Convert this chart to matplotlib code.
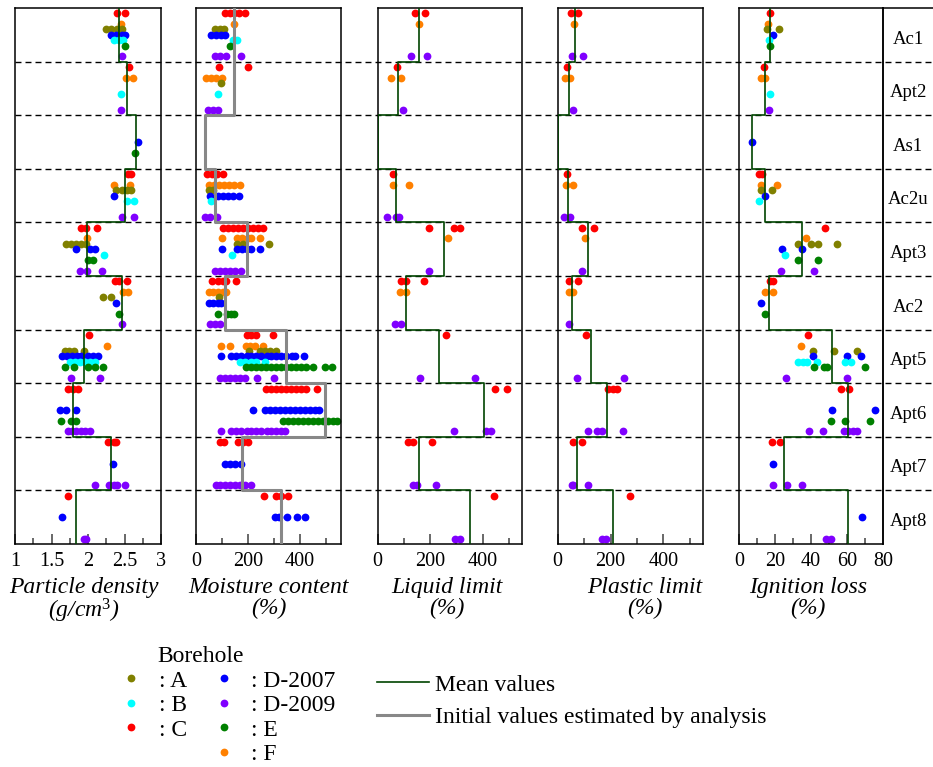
import matplotlib
matplotlib.use('Agg')
import matplotlib.pyplot as plt
from matplotlib.lines import Line2D

plt.rcParams['font.family'] = ['Liberation Serif', 'DejaVu Serif']
plt.rcParams['mathtext.fontset'] = 'custom'
plt.rcParams['mathtext.rm'] = 'Liberation Serif'
plt.rcParams['mathtext.it'] = 'Liberation Serif:italic'

# Layers from top to bottom, and boreholes
LAYERS = ['Ac1', 'Apt2', 'As1', 'Ac2u', 'Apt3', 'Ac2', 'Apt5', 'Apt6', 'Apt7', 'Apt8']
HOLES = ['A', 'B', 'C', 'D-2007', 'D-2009', 'E', 'F']
COLORS = {'A': '#808000', 'B': '#00ffff', 'C': '#ff0000', 'D-2007': '#0000ff',
          'D-2009': '#8000ff', 'E': '#008000', 'F': '#ff8000'}
# relative depth of each borehole's samples inside a layer
ROW = {'C': 0.1, 'F': 0.3, 'A': 0.4, 'D-2007': 0.5, 'B': 0.6, 'E': 0.7, 'D-2009': 0.9}

# Particle density (g/cm3)
density = {
    'Ac1': {'C': [2.40, 2.51], 'F': [2.45], 'A': [2.25, 2.32, 2.40, 2.47],
            'D-2007': [2.32, 2.39, 2.46, 2.51], 'B': [2.35, 2.42, 2.48], 'E': [2.51], 'D-2009': [2.47]},
    'Apt2': {'C': [2.56], 'F': [2.52, 2.61], 'B': [2.45], 'D-2009': [2.45]},
    'As1': {'D-2007': [2.68], 'E': [2.65]},
    'Ac2u': {'C': [2.55, 2.59], 'F': [2.35, 2.57], 'A': [2.39, 2.46, 2.53, 2.59],
             'D-2007': [2.36], 'B': [2.53, 2.63], 'D-2009': [2.47, 2.63]},
    'Apt3': {'C': [1.91, 1.97, 2.13], 'F': [1.99], 'A': [1.70, 1.77, 1.84, 1.91, 1.97],
             'D-2007': [1.84, 2.03, 2.10], 'B': [2.22], 'E': [2.00, 2.07], 'D-2009': [1.89, 1.98, 2.19]},
    'Ac2': {'C': [2.37, 2.42, 2.54], 'F': [2.48, 2.55], 'A': [2.20, 2.31], 'D-2007': [2.39],
            'E': [2.42], 'D-2009': [2.47]},
    'Apt5': {'C': [2.02], 'F': [2.26], 'A': [1.68, 1.74, 1.81, 1.95],
             'D-2007': [1.64, 1.71, 1.78, 1.85, 1.91, 2.00, 2.07, 2.14],
             'B': [1.75, 1.82, 1.89, 1.96, 2.03, 2.10], 'E': [1.69, 1.81, 2.00, 2.09, 2.21],
             'D-2009': [1.77, 2.16]},
    'Apt6': {'C': [1.73, 1.80, 1.86], 'D-2007': [1.61, 1.70, 1.83], 'E': [1.63, 1.77, 1.84],
             'D-2009': [1.72, 1.78, 1.84, 1.90, 1.96, 2.03]},
    'Apt7': {'C': [2.28, 2.35, 2.39], 'D-2007': [2.34], 'D-2009': [2.09, 2.29, 2.35, 2.40, 2.51]},
    'Apt8': {'C': [1.72], 'D-2007': [1.65], 'D-2009': [1.94, 1.97]},
}
density_mean = [2.43, 2.54, 2.66, 2.50, 1.99, 2.47, 1.94, 1.80, 2.32, 1.84]

# Moisture content (%)
moisture = {
    'Ac1': {'C': [110, 129, 147, 167, 187], 'F': [145], 'A': [72, 91, 108], 'D-2007': [59, 78, 97, 110],
            'B': [142, 158], 'E': [129], 'D-2009': [72, 91, 114, 174]},
    'Apt2': {'C': [88, 200], 'F': [40, 59, 78, 101], 'A': [95], 'B': [85], 'D-2009': [46, 65, 85]},
    'Ac2u': {'C': [42, 62, 81, 104], 'F': [50, 69, 88, 108, 127, 146, 168], 'A': [50, 65],
             'D-2007': [55, 85, 104, 123, 142, 165], 'B': [59], 'D-2009': [33, 53, 81]},
    'Apt3': {'C': [104, 123, 142, 162, 181, 200, 219, 238, 258], 'F': [100, 158, 178, 200, 213, 247],
             'A': [158, 181, 281], 'D-2007': [100, 158, 177, 194, 213, 247], 'B': [140],
             'D-2009': [72, 91, 110, 129, 149, 171]},
    'Ac2': {'C': [63, 85, 104, 117, 155], 'F': [50, 65, 85, 104, 117], 'A': [88], 'D-2007': [50, 65, 85, 97],
            'E': [85, 119, 136, 145], 'D-2009': [53, 72, 91]},
    'Apt5': {'C': [194, 213, 232, 296], 'F': [97, 129, 191, 209, 226, 258], 'A': [204, 245, 264, 283, 309],
             'D-2007': [97, 136, 155, 174, 194, 213, 232, 251, 271, 290, 309, 328, 347, 367, 379, 414],
             'B': [168, 187, 213, 232, 264],
             'E': [191, 210, 229, 249, 268, 287, 306, 326, 345, 364, 383, 403, 422, 450, 495, 521],
             'D-2009': [91, 110, 129, 149, 168, 187, 236, 300]},
    'Apt6': {'C': [268, 287, 306, 326, 345, 364, 383, 403, 422, 465],
             'D-2007': [219, 264, 283, 303, 322, 341, 360, 379, 399, 418, 437, 456, 473],
             'E': [335, 354, 373, 392, 412, 431, 450, 469, 488, 508, 527, 540],
             'D-2009': [97, 136, 155, 174, 194, 213, 232, 251, 271, 290, 309, 328, 341]},
    'Apt7': {'C': [91, 106, 162, 181, 200], 'D-2007': [110, 129, 149, 174],
             'D-2009': [76, 91, 110, 129, 149, 168, 187, 210]},
    'Apt8': {'C': [260, 309, 326, 354], 'D-2007': [305, 319, 350, 388, 418]},
}
moisture_init = [146, 146, 33, 72, 194, 113, 345, 495, 177, 328]

# Liquid limit (%)
liquid = {
    'Ac1': {'C': [143, 181], 'F': [159], 'D-2009': [126, 189]},
    'Apt2': {'C': [73], 'F': [51, 88], 'D-2009': [96]},
    'Ac2u': {'C': [60], 'F': [57, 121], 'D-2009': [37, 69, 80]},
    'Apt3': {'C': [194, 292, 315], 'F': [269], 'D-2009': [194]},
    'Ac2': {'C': [89, 108, 178], 'F': [85, 108], 'D-2009': [66, 88]},
    'Apt5': {'C': [261], 'D-2009': [162, 372]},
    'Apt6': {'C': [448, 493], 'D-2009': [292, 414, 432]},
    'Apt7': {'C': [115, 136, 206], 'D-2009': [136, 149, 222]},
    'Apt8': {'C': [442], 'D-2009': [296, 315]},
}
liquid_mean = [159, 79, 0, 69, 251, 107, 234, 405, 159, 350]

# Plastic limit (%)
plastic = {
    'Ac1': {'C': [49, 75], 'F': [63], 'D-2009': [56, 97]},
    'Apt2': {'C': [37], 'F': [28, 47], 'D-2009': [59]},
    'Ac2u': {'C': [37], 'F': [30, 57], 'D-2009': [24, 47]},
    'Apt3': {'C': [91, 138], 'F': [104], 'D-2009': [92]},
    'Ac2': {'C': [41, 75], 'F': [44, 59], 'D-2009': [41]},
    'Apt5': {'C': [106], 'D-2009': [72, 252]},
    'Apt6': {'C': [192, 209, 224], 'D-2009': [116, 148, 167, 247]},
    'Apt7': {'C': [57, 91], 'D-2009': [53, 59, 114]},
    'Apt8': {'C': [272], 'D-2009': [167, 182]},
}
plastic_mean = [67, 43, 0, 38, 116, 53, 125, 186, 72, 209]

# Ignition loss (%)
ignition = {
    'Ac1': {'C': [17.2], 'F': [16.3], 'A': [15.7, 22.2], 'D-2007': [18.7], 'B': [16.8], 'E': [17.2]},
    'Apt2': {'C': [14.0], 'F': [12.0, 14.4], 'B': [17.2], 'D-2009': [16.6]},
    'As1': {'D-2007': [7.4]},
    'Ac2u': {'C': [11.3, 12.9], 'F': [12.2, 21.3], 'A': [12.2, 18.5], 'D-2007': [14.6], 'B': [11.1]},
    'Apt3': {'C': [47.7], 'F': [37.0], 'A': [32.9, 39.7, 43.6, 54.3], 'D-2007': [24.0, 34.8],
             'B': [25.5], 'E': [32.9, 43.6], 'D-2009': [23.3, 41.8]},
    'Ac2': {'C': [17.2, 19.0], 'F': [14.4, 19.0], 'D-2007': [12.0], 'E': [14.4]},
    'Apt5': {'C': [38.4], 'F': [34.4], 'A': [41.2, 52.7, 65.2], 'D-2007': [41.2, 59.7, 67.5],
             'B': [32.9, 35.7, 37.9, 43.1, 58.8, 61.9], 'E': [41.8, 47.1, 48.6, 69.9],
             'D-2009': [25.9, 60.1]},
    'Apt6': {'C': [56.4, 61.2], 'D-2007': [51.8, 75.6], 'E': [51.0, 58.8, 72.6],
             'D-2009': [39.0, 46.8, 58.2, 60.6, 63.0, 65.2]},
    'Apt7': {'C': [18.5, 22.7], 'D-2007': [19.0], 'D-2009': [18.7, 26.8, 34.8]},
    'Apt8': {'D-2007': [68.4], 'D-2009': [48.1, 51.0]},
}
ignition_mean = [17.2, 14.4, 7.4, 14.2, 34.8, 16.5, 51.8, 60.3, 25.0, 60.3]

MEAN_COLOR = '#004400'
INIT_COLOR = '#888888'
DOT = 5.6

W, H = 933, 767
fig = plt.figure(figsize=(W / 100, H / 100), dpi=100)


def box(x0, x1, y0=8, y1=544):
    return [x0 / W, 1 - y1 / H, (x1 - x0) / W, (y1 - y0) / H]


# dashed layer boundaries running through all panels
bg = fig.add_axes(box(15, 933), zorder=0)
bg.axis('off')
bg.set_xlim(0, 1)
bg.set_ylim(len(LAYERS), 0)
for b in range(1, len(LAYERS)):
    bg.axhline(b, color='black', lw=1.0, dashes=(4.3, 2.9))

# layer names column
lab = fig.add_axes(box(883.3, 933), zorder=1, facecolor='none')
lab.set_xlim(0, 1)
lab.set_ylim(len(LAYERS), 0)
lab.set_xticks([])
lab.set_yticks([])
for s in ['right', 'bottom']:
    lab.spines[s].set_visible(False)
for s in ['top', 'left']:
    lab.spines[s].set_linewidth(1.1)
for i, name in enumerate(LAYERS):
    lab.text(0.5, i + 0.58, name, ha='center', va='center', fontsize=13.5)


def steps(values):
    xs, ys = [], []
    for i, v in enumerate(values):
        xs += [v, v]
        ys += [i, i + 1]
    return xs, ys


panels = [
    (box(15, 161), density, density_mean, MEAN_COLOR, 1.2, (1, 3),
     [1, 1.5, 2, 2.5, 3], ['1', '1.5', '2', '2.5', '3'], [1.25, 1.75, 2.25, 2.75],
     'Particle density\n(g/cm$^{3}$)', 0.47),
    (box(196, 341), moisture, moisture_init, INIT_COLOR, 2.2, (0, 557),
     [0, 200, 400], ['0', '200', '400'], [100, 300, 500],
     'Moisture content\n(%)', 0.5),
    (box(377.7, 522.3), liquid, liquid_mean, MEAN_COLOR, 1.2, (0, 551),
     [0, 200, 400], ['0', '200', '400'], [100, 300, 500],
     'Liquid limit\n(%)', 0.48),
    (box(557.7, 703), plastic, plastic_mean, MEAN_COLOR, 1.2, (0, 550),
     [0, 200, 400], ['0', '200', '400'], [100, 300, 500],
     'Plastic limit\n(%)', 0.6),
    (box(739, 883.3), ignition, ignition_mean, MEAN_COLOR, 1.2, (0, 80),
     [0, 20, 40, 60, 80], ['0', '20', '40', '60', '80'], [10, 30, 50, 70],
     'Ignition loss\n(%)', 0.48),
]

for rect, data, line_vals, line_color, line_w, xlim, ticks, ticklabels, minor, label, lx in panels:
    ax = fig.add_axes(rect, zorder=2, facecolor='none')
    for li, layer in enumerate(LAYERS):
        for hole, vals in data.get(layer, {}).items():
            ax.plot(vals, [li + ROW[hole]] * len(vals), 'o', ms=DOT, mew=0,
                    color=COLORS[hole], zorder=2, clip_on=False)
    xs, ys = steps(line_vals)
    ax.plot(xs, ys, color=line_color, lw=line_w, zorder=3)
    ax.set_xlim(*xlim)
    ax.set_ylim(len(LAYERS), 0)
    ax.set_yticks([])
    ax.set_xticks(ticks, ticklabels)
    ax.set_xticks(minor, minor=True)
    ax.tick_params(axis='x', which='both', direction='in', color='#404040', width=1.1,
                   labelsize=14.5, pad=6)
    ax.tick_params(axis='x', which='major', length=7.5)
    ax.tick_params(axis='x', which='minor', length=4)
    for s in ax.spines.values():
        s.set_linewidth(1.1)
    ax.set_xlabel(label, fontsize=17, style='italic', linespacing=0.95)
    ax.xaxis.set_label_coords(lx, -0.062)

# borehole legend
fig.text(157.3 / W, 1 - 661.7 / H, 'Borehole', fontsize=17, va='baseline')
handles = []
for hole in ['A', 'B', 'C', None, 'D-2007', 'D-2009', 'E', 'F']:
    if hole is None:
        handles.append(Line2D([], [], ls='none', label=' '))
    else:
        handles.append(Line2D([], [], ls='none', marker='o', ms=DOT, mew=0,
                              color=COLORS[hole], label=': ' + hole))
fig.legend(handles=handles, ncol=2, loc='upper left', bbox_to_anchor=(121.6 / W, 1 - 670 / H),
           frameon=False, fontsize=17, borderpad=0, borderaxespad=0, handlelength=0.8,
           handletextpad=0.78, columnspacing=1.15, labelspacing=0.13)

# line legend
line_handles = [Line2D([], [], color=MEAN_COLOR, lw=1.2, label='Mean values'),
                Line2D([], [], color=INIT_COLOR, lw=2.2, label='Initial values estimated by analysis')]
fig.legend(handles=line_handles, loc='upper left', bbox_to_anchor=(376.7 / W, 1 - 674 / H),
           frameon=False, fontsize=17, borderpad=0, borderaxespad=0, handlelength=2.2,
           handletextpad=0.28, labelspacing=0.46)

fig.savefig('out.png', dpi=100)
